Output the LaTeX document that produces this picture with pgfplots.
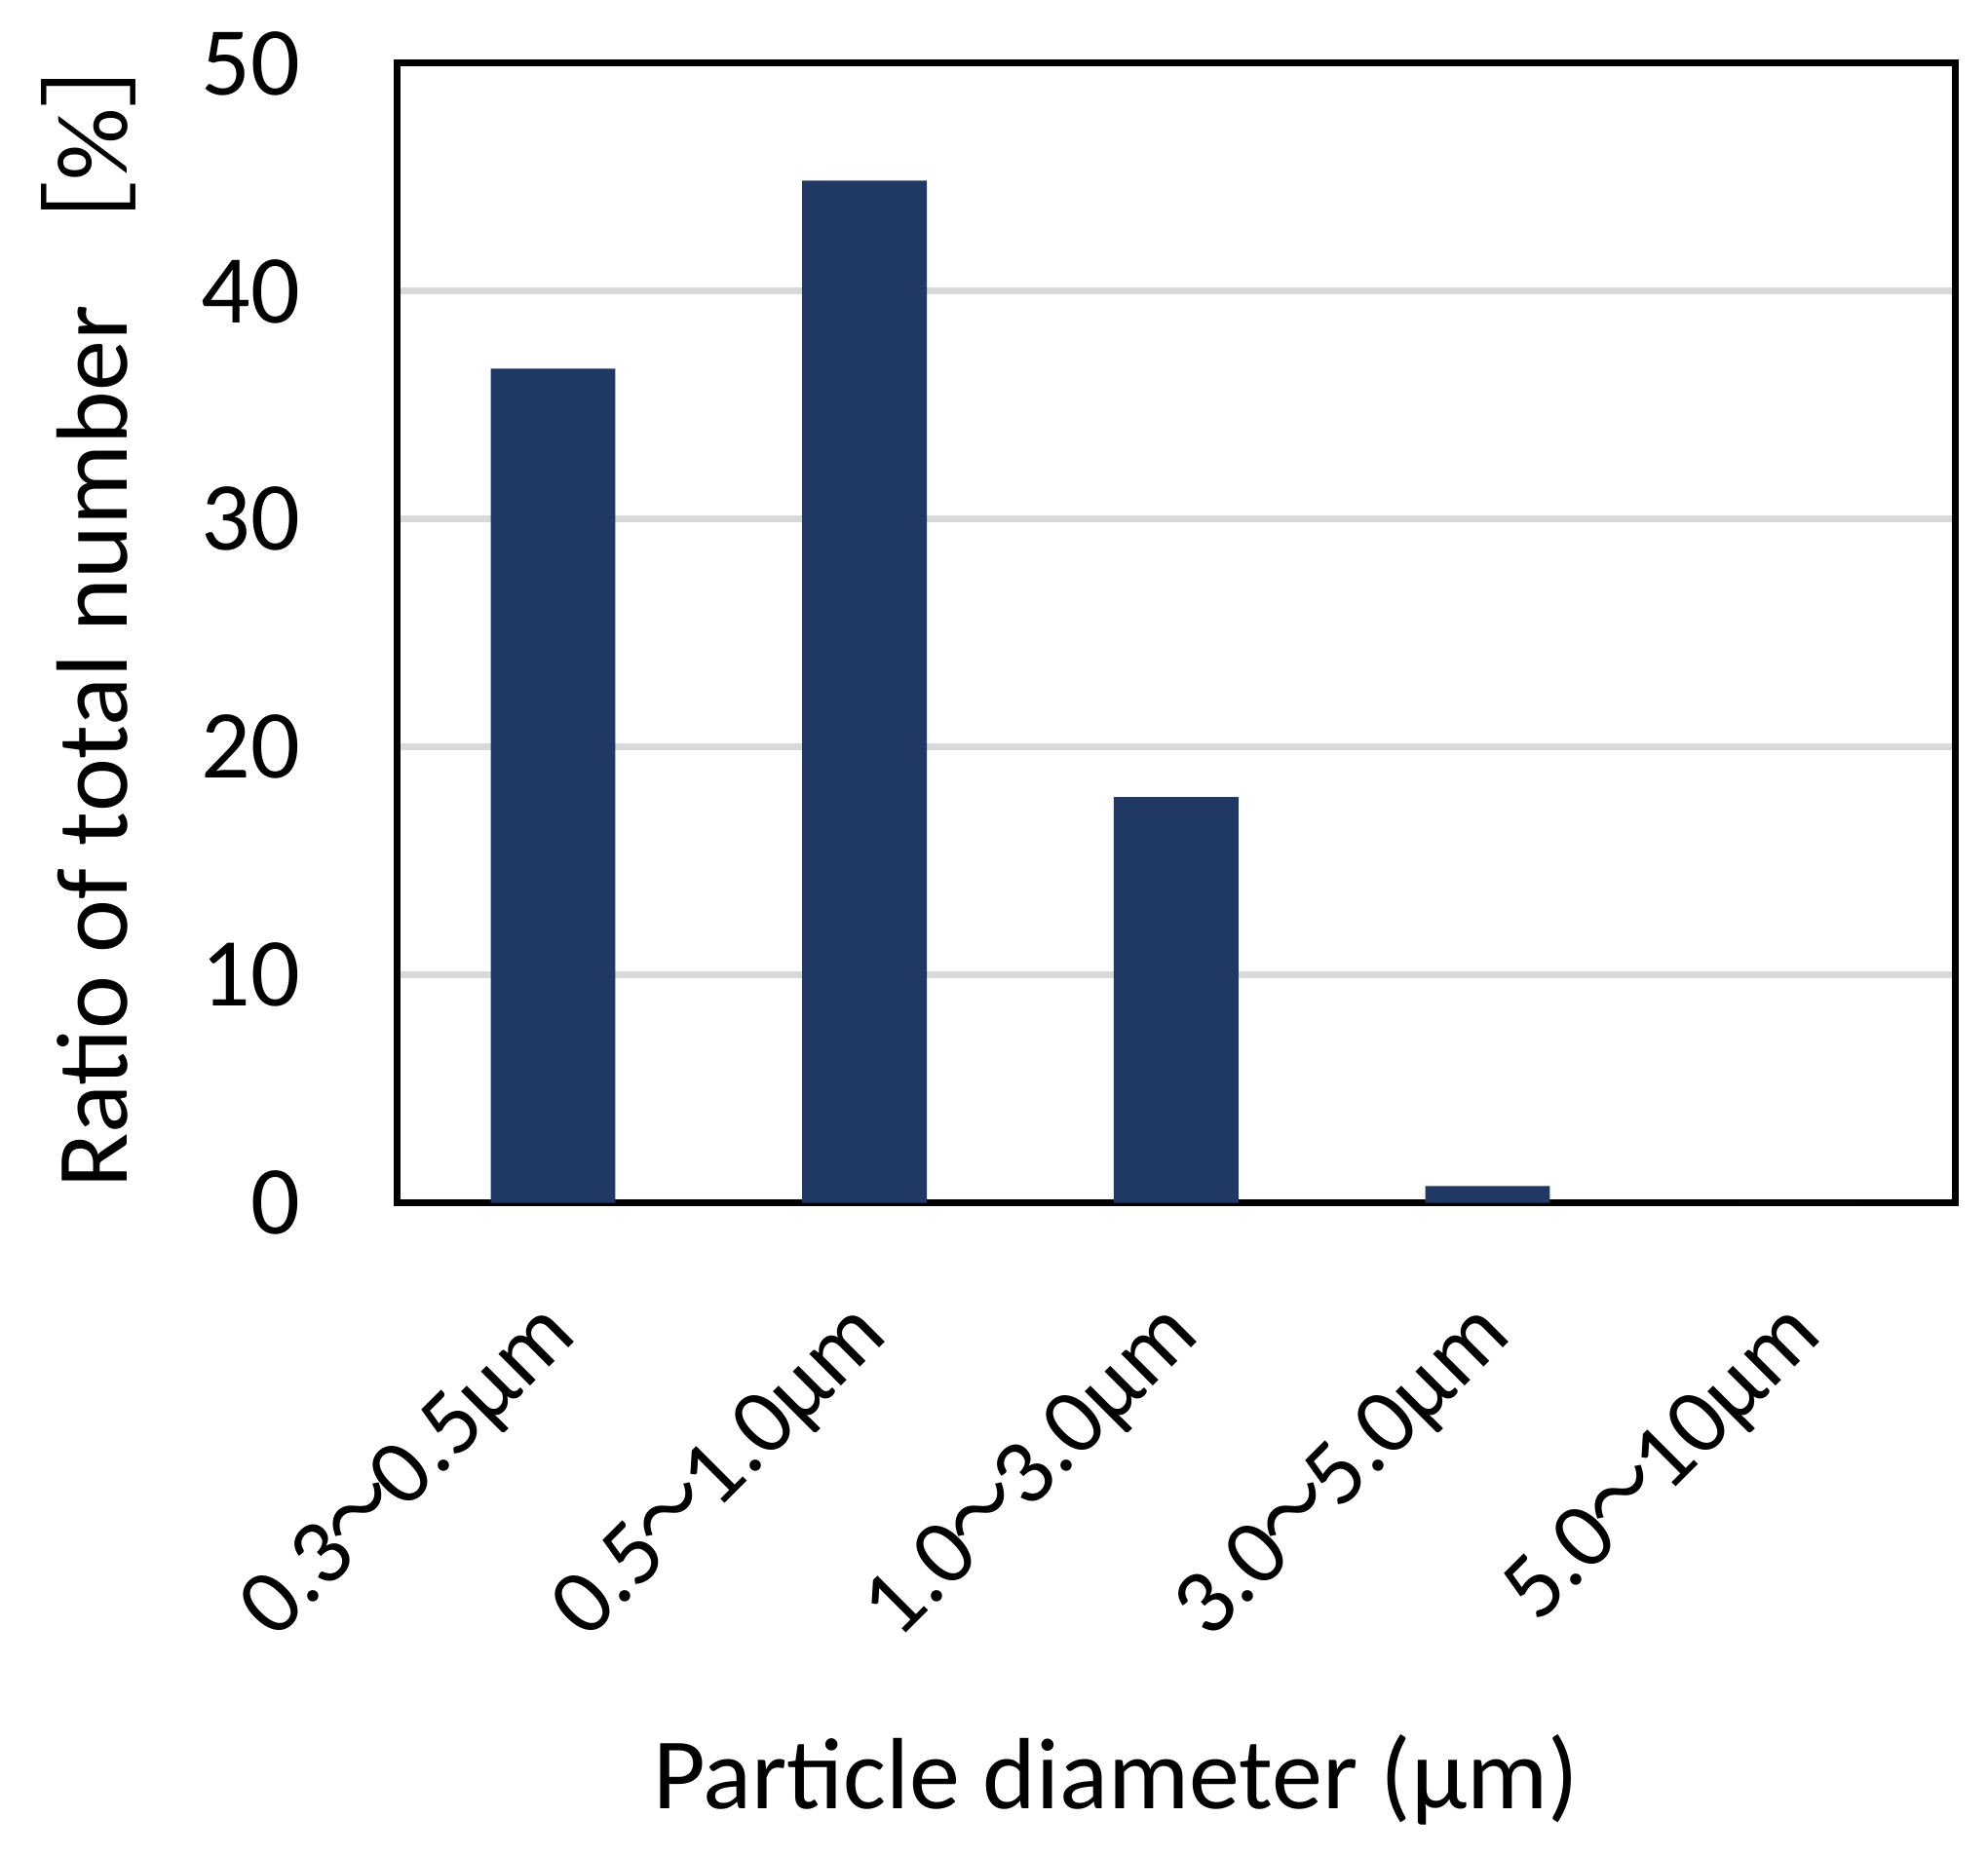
\documentclass[border=0pt]{standalone}
\usepackage{fontspec}
\setmainfont{Carlito}
\newfontfamily\cjk{Noto Sans CJK JP}
\usepackage{graphicx}
\usepackage{pgfplots}
\pgfplotsset{compat=1.18}
\definecolor{barblue}{RGB}{32,56,100}
\definecolor{gridgray}{RGB}{217,217,217}

% grid behind the bars, frame in front of them
\pgfplotsset{
  layers/gridback/.define layer set={axis background,axis grid,main,axis ticks,axis lines,axis tick labels,axis descriptions,axis foreground}{},
}
\newcommand{\wave}{\kern-0.05em\scalebox{0.8}[1]{\cjk ～}\kern-0.05em}

\begin{document}
\fontsize{25}{30}\selectfont
\begin{tikzpicture}
\begin{axis}[
  set layers=gridback,
  at={(101.9pt,167.1pt)}, anchor=south west,
  scale only axis, width=399.6pt, height=292.4pt,
  xmin=-0.5, xmax=4.5, ymin=0, ymax=50,
  ytick={0,10,20,30,40,50},
  xtick={0,1,2,3,4},
  xticklabels={0.3\wave0.5µm, 0.5\wave1.0µm, 1.0\wave3.0µm, 3.0\wave5.0µm, 5.0\wave10µm},
  ymajorgrids, grid style={gridgray, line width=1.75pt},
  axis line style={line width=1.75pt, black},
  major tick length=0pt, tick style={draw=none},
  /pgf/number format/assume math mode=true,
  yticklabel style={anchor=east, inner sep=0pt, xshift=-24.75pt, font=\fontsize{25}{30}\selectfont},
  xticklabel style={xshift=2.5pt, rotate=45, anchor=east, inner sep=0pt, font=\fontsize{24}{29}\selectfont},
  xticklabel shift=30.5pt,
  every axis y label/.style={at={(rel axis cs:-0.198,0.531)}, rotate=90, anchor=center, font=\fontsize{26}{31}\selectfont},
  every axis x label/.style={at={(rel axis cs:0.4614,-0.5314)}, anchor=base, font=\fontsize{26}{31}\selectfont},
  ylabel={Ratio of total number {\cjk ［}\%{\cjk ］}},
  xlabel={Particle diameter (µm)},
]
\addplot[ybar, bar width=0.4, fill=barblue, draw=none] coordinates {
  (0,36.6)
  (1,44.85)
  (2,17.8)
  (3,0.74)
  (4,0)
};
\end{axis}
\pgfresetboundingbox
\path[use as bounding box] (0,0) rectangle (510pt,475.75pt);
\end{tikzpicture}
\end{document}
